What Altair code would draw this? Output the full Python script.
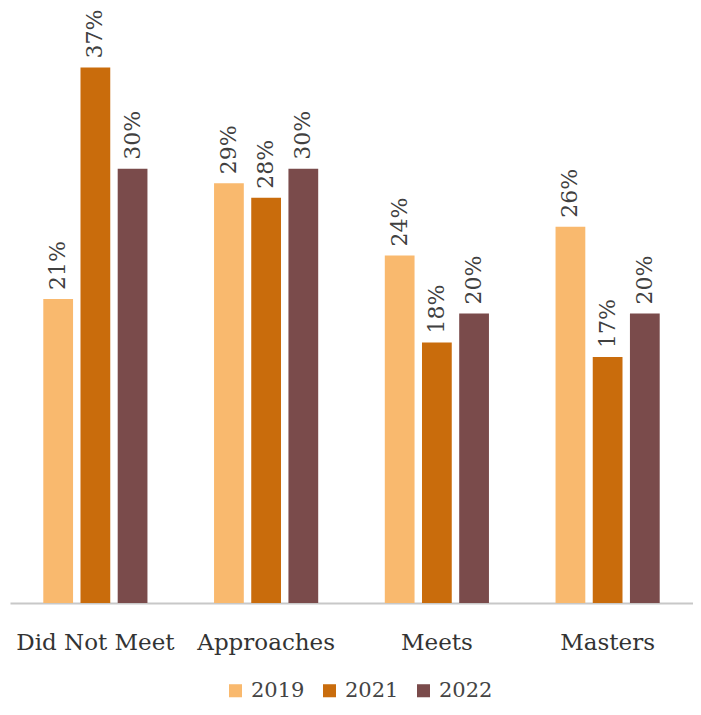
import altair as alt
import pandas as pd

categories = ["Did Not Meet", "Approaches", "Meets", "Masters"]
years = ["2019", "2021", "2022"]
v2019 = [21, 29, 24, 26]
v2021 = [37, 28, 18, 17]
v2022 = [30, 30, 20, 20]
colors = ["#F9B96E", "#C96C0C", "#7A4B4B"]

rows = []
for yr, vals in zip(years, [v2019, v2021, v2022]):
    for c, v in zip(categories, vals):
        rows.append({"cat": c, "year": yr, "value": v, "label": f"{v}%"})
df = pd.DataFrame(rows)

FONT = "DejaVu Serif"

base = alt.Chart(df).encode(
    x=alt.X("cat:N", sort=categories, title=None,
            scale=alt.Scale(paddingInner=0.39, paddingOuter=0.195),
            axis=alt.Axis(labelAngle=0, labelFont=FONT, labelFontSize=23,
                          labelColor="#333333", labelPadding=28, ticks=False,
                          domainColor="#c8c8c8", domainWidth=2, grid=False)),
    xOffset=alt.XOffset("year:N", sort=years,
                        scale=alt.Scale(paddingInner=0.2, paddingOuter=0)),
    y=alt.Y("value:Q", scale=alt.Scale(domain=[0, 40]), axis=None),
)

bars = base.mark_bar().encode(
    color=alt.Color("year:N", sort=years,
                    scale=alt.Scale(domain=years, range=colors),
                    legend=alt.Legend(title=None, orient="none", direction="horizontal",
                                      legendX=215, legendY=579 + 77,
                                      symbolType="square", symbolSize=170,
                                      symbolStrokeWidth=0,
                                      labelFont=FONT, labelFontSize=21,
                                      labelColor="#444444", columnPadding=14,
                                      labelOffset=5, padding=0))
)

labels = base.mark_text(angle=270, align="left", baseline="middle", dx=9,
                        font=FONT, fontSize=22, color="#404040").encode(
    text="label:N"
)

chart = (bars + labels).properties(
    width=683, height=579, background="white",
    padding={"left": 2, "top": 16, "right": 0, "bottom": 104},
    autosize=alt.AutoSizeParams(type="none"),
).configure_view(stroke=None)

chart.save("out.html", embed_options={"renderer": "svg", "actions": False})
